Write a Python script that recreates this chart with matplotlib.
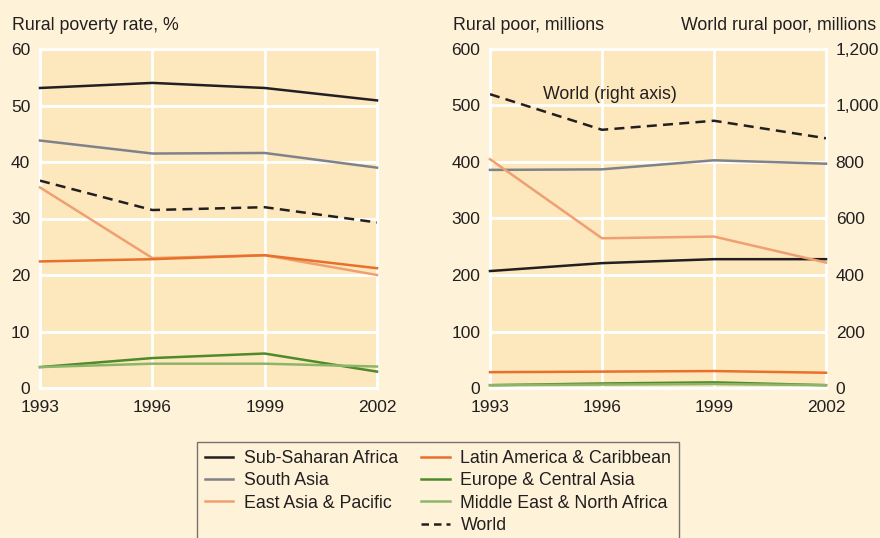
import matplotlib
matplotlib.use("Agg")
import matplotlib.pyplot as plt
from matplotlib.lines import Line2D

plt.rcParams['font.family'] = ['Liberation Sans', 'DejaVu Sans']

years = [1993, 1996, 1999, 2002]
regions = ["Sub-Saharan Africa", "South Asia", "East Asia & Pacific",
           "Latin America & Caribbean", "Europe & Central Asia",
           "Middle East & North Africa"]
colors = ["#231f20", "#7f8289", "#f0a070", "#e8702a", "#4e8a2a", "#8db56a"]

# poverty rate, %
rate = {
    "Sub-Saharan Africa": [53.1, 54.0, 53.1, 50.9],
    "South Asia": [43.8, 41.5, 41.6, 39.0],
    "East Asia & Pacific": [35.5, 23.0, 23.5, 20.0],
    "Latin America & Caribbean": [22.4, 22.8, 23.5, 21.2],
    "Europe & Central Asia": [3.7, 5.3, 6.1, 2.9],
    "Middle East & North Africa": [3.7, 4.3, 4.3, 3.8],
}
world_rate = [36.7, 31.5, 32.0, 29.3]

# rural poor, millions
poor = {
    "Sub-Saharan Africa": [207, 221, 228, 228],
    "South Asia": [386, 387, 403, 397],
    "East Asia & Pacific": [405, 265, 268, 222],
    "Latin America & Caribbean": [28, 29, 30, 27],
    "Europe & Central Asia": [5, 8, 10, 5],
    "Middle East & North Africa": [5, 6, 7, 5],
}
world_poor = [1040, 914, 946, 884]

bg = "#fef2d8"
axbg = "#fde8be"
txt = "#231f20"
fs = 12.5
tfs = 12.8

fig = plt.figure(figsize=(8.8, 5.38), dpi=100, facecolor=bg)
ax1 = fig.add_axes([40/880, 1-388/538, 337/880, 339/538])
ax2 = fig.add_axes([490/880, 1-388/538, 336/880, 339/538])

def style(ax, ymax, step):
    ax.set_facecolor(axbg)
    ax.set_xlim(1993, 2002)
    ax.set_ylim(0, ymax)
    ax.set_xticks(years)
    ax.set_yticks(range(0, ymax + 1, step))
    ax.grid(True, color="white", linewidth=2)
    ax.set_axisbelow(True)
    for s in ax.spines.values():
        s.set_color("white")
        s.set_linewidth(2)
    ax.tick_params(length=0, labelsize=fs, colors=txt)
    ax.tick_params(axis="y", pad=7)
    ax.tick_params(axis="x", pad=9)

style(ax1, 60, 10)
style(ax2, 600, 100)

for r, c in zip(regions, colors):
    ax1.plot(years, rate[r], color=c, lw=1.8, clip_on=False, zorder=3)
ax1.plot(years, world_rate, color=txt, lw=1.8, ls=(0, (4, 2.5)), zorder=3)

for r, c in zip(regions, colors):
    ax2.plot(years, poor[r], color=c, lw=1.8, clip_on=False, zorder=3)

ax3 = ax2.twinx()
ax3.set_ylim(0, 1200)
ax3.set_yticks(range(0, 1201, 200))
ax3.set_yticklabels(["0", "200", "400", "600", "800", "1,000", "1,200"])
ax3.tick_params(length=0, labelsize=fs, colors=txt, pad=7)
for s in ax3.spines.values():
    s.set_visible(False)
ax3.plot(years, world_poor, color=txt, lw=1.8, ls=(0, (4, 2.5)), zorder=3)
ax3.text(1994.42, 1040, "World (right axis)", fontsize=tfs, color=txt, va="center")

fig.text(12/880, 1-25/538, "Rural poverty rate, %", fontsize=tfs, color=txt, va="center")
fig.text(453/880, 1-25/538, "Rural poor, millions", fontsize=tfs, color=txt, va="center")
fig.text(876/880, 1-25/538, "World rural poor, millions", fontsize=tfs, color=txt,
         va="center", ha="right")

handles = [Line2D([], [], color=c, lw=1.8) for c in colors[:3]]
handles.append(Line2D([], [], color="none"))
handles += [Line2D([], [], color=c, lw=1.8) for c in colors[3:]]
handles.append(Line2D([], [], color=txt, lw=1.8, ls=(0, (3, 2))))
labels = regions[:3] + [""] + regions[3:] + ["World"]
leg = fig.legend(handles, labels, ncol=2, loc="upper left",
                 bbox_to_anchor=(197/880, 1-442/538), fontsize=tfs,
                 frameon=True, fancybox=False, facecolor=bg, edgecolor="#555555",
                 handlelength=1.6, handletextpad=0.6, columnspacing=1.3,
                 labelspacing=0.3, borderpad=0.45, borderaxespad=0,
                 labelcolor=txt)
leg.get_frame().set_linewidth(1)

fig.savefig("out.png", dpi=100, facecolor=bg)
